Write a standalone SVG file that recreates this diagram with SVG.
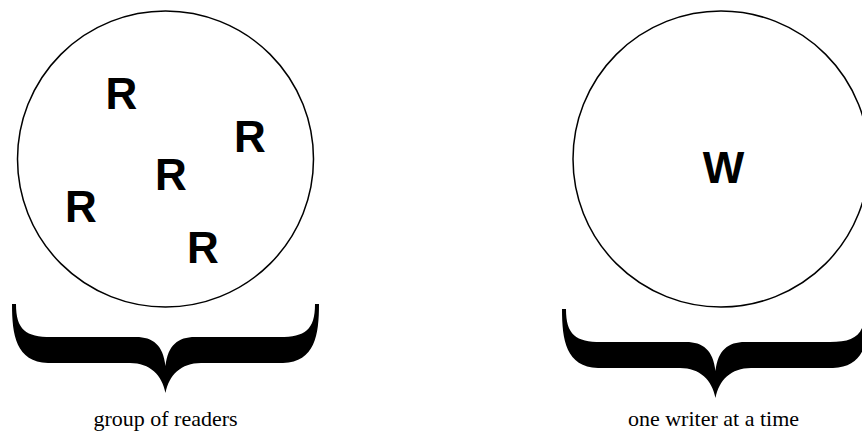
<svg xmlns="http://www.w3.org/2000/svg" width="862" height="434" viewBox="0 0 862 434">
<style>
.circ{fill:none;stroke:#000;stroke-width:1.5}
.big{font-family:"Liberation Sans",Arial,sans-serif;font-weight:bold;font-size:44px;fill:#000}
.cap{font-family:"Liberation Serif","Times New Roman",serif;font-size:22px;fill:#000;text-anchor:middle}
.brace{fill:#000;stroke:none}
</style>
<defs>
<path id="brace" class="brace" d="M 12,304 C 12,335 16,362 48,363 L 130,363 C 150,363 162,375 165.5,393 C 169,375 181,363 201,363 L 283,363 C 315,362 319,335 319,304 L 315,304 C 315,330 305,337 280,337 L 195,337 C 178,337 168,345 165.5,366 C 163,345 153,337 136,337 L 51,337 C 26,337 16,330 16,304 Z"/>
</defs>
<g id="readers">
<circle class="circ" cx="165.5" cy="159" r="148"/>
<text class="big" x="105.5" y="109">R</text>
<text class="big" x="234" y="152">R</text>
<text class="big" x="155" y="190">R</text>
<text class="big" x="65" y="222">R</text>
<text class="big" x="187" y="263">R</text>
<use href="#brace"/>
<text class="cap" x="165.5" y="426">group of readers</text>
</g>
<g id="writer">
<circle class="circ" cx="721" cy="159" r="148"/>
<text class="big" x="723.5" y="183" text-anchor="middle">W</text>
<use href="#brace" transform="translate(550,5)"/>
<text class="cap" x="713.5" y="426">one writer at a time</text>
</g>
<g id="connectors"></g>
</svg>
